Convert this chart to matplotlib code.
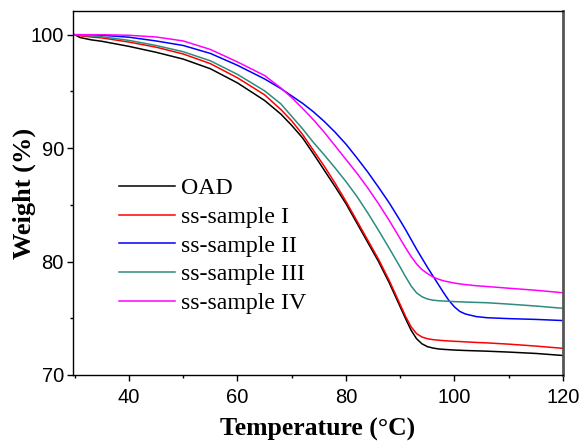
import matplotlib
matplotlib.use("Agg")
import matplotlib.pyplot as plt
from matplotlib.ticker import MultipleLocator

temperature = [30, 31, 33, 35, 40, 45, 50, 55, 60, 65, 68, 70, 72, 74, 76, 78, 80, 82, 84, 86, 88,
               90, 91, 92, 93, 94, 95, 96, 97, 98, 99, 100, 101, 102, 104, 106, 110, 115, 120]

oad = [100.0, 99.75, 99.55, 99.42, 98.97, 98.45, 97.85, 97.0, 95.75, 94.2, 93.0, 92.0, 90.9, 89.5,
       88.05, 86.6, 85.1, 83.4, 81.7, 80.0, 78.1, 76.0, 74.95, 73.95, 73.2, 72.75, 72.5, 72.38, 72.3,
       72.26, 72.23, 72.2, 72.18, 72.16, 72.13, 72.1, 72.02, 71.9, 71.72]

sample_1 = [100.0, 99.9, 99.8, 99.72, 99.35, 98.9, 98.3, 97.45, 96.2, 94.7, 93.4, 92.4, 91.2, 89.8,
            88.4, 86.9, 85.3, 83.6, 81.9, 80.2, 78.3, 76.2, 75.15, 74.25, 73.65, 73.35, 73.2, 73.12,
            73.07, 73.03, 73.0, 72.97, 72.95, 72.92, 72.87, 72.83, 72.72, 72.55, 72.35]

sample_2 = [100.0, 100.0, 99.98, 99.95, 99.78, 99.45, 99.05, 98.35, 97.3, 96.1, 95.25, 94.6, 93.95,
            93.2, 92.35, 91.4, 90.35, 89.15, 87.9, 86.55, 85.15, 83.6, 82.8, 81.95, 81.1, 80.3, 79.5,
            78.75, 78.0, 77.25, 76.55, 76.0, 75.6, 75.38, 75.15, 75.05, 74.97, 74.9, 74.8]

sample_3 = [100.0, 99.95, 99.9, 99.82, 99.5, 99.05, 98.5, 97.7, 96.5, 95.05, 93.9, 92.8, 91.7, 90.5,
            89.4, 88.25, 87.05, 85.75, 84.3, 82.75, 81.15, 79.5, 78.65, 77.85, 77.25, 76.9, 76.7, 76.6,
            76.55, 76.52, 76.5, 76.47, 76.45, 76.43, 76.4, 76.37, 76.25, 76.08, 75.88]

sample_4 = [100.0, 100.0, 100.0, 100.0, 99.95, 99.8, 99.45, 98.7, 97.6, 96.4, 95.3, 94.45, 93.5,
            92.5, 91.4, 90.2, 89.0, 87.8, 86.5, 85.1, 83.6, 82.0, 81.2, 80.45, 79.8, 79.3, 78.95,
            78.65, 78.45, 78.3, 78.2, 78.1, 78.03, 77.97, 77.87, 77.8, 77.65, 77.47, 77.25]

labels = ["OAD", "ss-sample I", "ss-sample II", "ss-sample III", "ss-sample IV"]
colors = ["#000000", "#FF0000", "#0000FF", "#2E8B80", "#FF00FF"]
series = [oad, sample_1, sample_2, sample_3, sample_4]

fig = plt.figure(figsize=(5.82, 4.42), dpi=100)
ax = fig.add_axes([73 / 582, 1 - 375 / 442, (563 - 73) / 582, (375 - 11) / 442])

for vals, lab, col in zip(series, labels, colors):
    ax.plot(temperature, vals, color=col, lw=1.1, label=lab)

ax.set_xlim(29.68, 120)
ax.set_ylim(70, 102.09)
ax.xaxis.set_major_locator(MultipleLocator(20))
ax.xaxis.set_minor_locator(MultipleLocator(10))
ax.yaxis.set_major_locator(MultipleLocator(10))
ax.yaxis.set_minor_locator(MultipleLocator(5))
ax.tick_params(which="both", direction="out", top=False, right=False, width=1.0)
ax.tick_params(which="major", length=4.5, labelsize=14.5)
ax.tick_params(axis="x", which="major", pad=5)
ax.tick_params(axis="y", which="major", pad=2)
ax.tick_params(which="minor", length=2.5)
for lbl in ax.get_xticklabels() + ax.get_yticklabels():
    lbl.set_fontfamily("Liberation Sans")

for s in ["left", "bottom", "top"]:
    ax.spines[s].set_linewidth(1.0)
ax.spines["right"].set_color("#555555")
ax.spines["right"].set_linewidth(2.0)

ax.set_xlabel("Temperature (\u00b0C)", fontfamily="Liberation Serif", fontweight="bold", fontsize=18.5, labelpad=8)
ax.set_ylabel("Weight (%)", fontfamily="Liberation Serif", fontweight="bold", fontsize=19, labelpad=-4)

leg = ax.legend(loc="upper left", bbox_to_anchor=(0.070, 0.575), frameon=False,
                prop={"family": "Liberation Serif", "size": 17.2},
                handlelength=2.35, handletextpad=0.25, labelspacing=0.29, borderpad=0)

fig.savefig("out.png", dpi=100)
